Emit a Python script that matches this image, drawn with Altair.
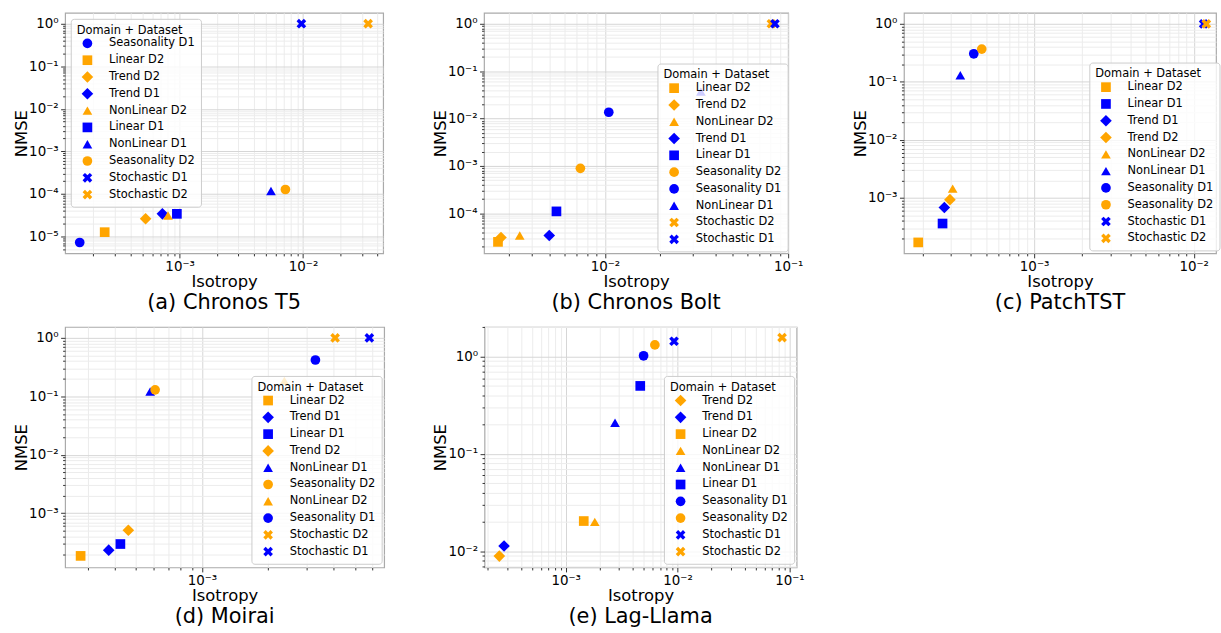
import altair as alt
import pandas as pd

BLUE = "#0000FF"
ORANGE = "#FFA500"

# ---------------- data ----------------
a_labels = ["Seasonality D1", "Linear D2", "Trend D2", "Trend D1", "NonLinear D2",
            "Linear D1", "NonLinear D1", "Seasonality D2", "Stochastic D1", "Stochastic D2"]
a_x = [1.55e-4, 2.47e-4, 5.3e-4, 7.25e-4, 8.05e-4, 9.5e-4, 5.5e-3, 7.2e-3, 9.7e-3, 0.0337]
a_y = [7.2e-6, 1.26e-5, 2.6e-5, 3.4e-5, 3.1e-5, 3.4e-5, 1.17e-4, 1.27e-4, 1.0, 1.0]

b_labels = ["Linear D2", "Trend D2", "NonLinear D2", "Trend D1", "Linear D1",
            "Seasonality D2", "Seasonality D1", "NonLinear D1", "Stochastic D2", "Stochastic D1"]
b_x = [2.61e-3, 2.71e-3, 3.43e-3, 4.97e-3, 5.44e-3, 7.35e-3, 1.05e-2, 0.0334, 0.081, 0.0847]
b_y = [2.5e-5, 3.1e-5, 3.4e-5, 3.4e-5, 1.1e-4, 8.9e-4, 1.36e-2, 0.037, 1.0, 1.0]

c_labels = ["Linear D2", "Linear D1", "Trend D1", "Trend D2", "NonLinear D2",
            "NonLinear D1", "Seasonality D1", "Seasonality D2", "Stochastic D1", "Stochastic D2"]
c_x = [1.88e-4, 2.67e-4, 2.74e-4, 2.97e-4, 3.09e-4, 3.45e-4, 4.19e-4, 4.7e-4, 0.01154, 0.0120]
c_y = [1.7e-4, 3.6e-4, 6.8e-4, 9.3e-4, 1.44e-3, 0.13, 0.305, 0.368, 1.0, 1.0]

d_labels = ["Linear D2", "Trend D1", "Linear D1", "Trend D2", "NonLinear D1",
            "Seasonality D2", "NonLinear D2", "Seasonality D1", "Stochastic D2", "Stochastic D1"]
d_x = [2.79e-4, 3.75e-4, 4.24e-4, 4.61e-4, 5.8e-4, 6.11e-4, 2.38e-3, 3.3e-3, 4.06e-3, 5.82e-3]
d_y = [1.86e-4, 2.33e-4, 2.97e-4, 5.1e-4, 0.121, 0.129, 0.184, 0.418, 1.0, 1.0]

e_labels = ["Trend D2", "Trend D1", "Linear D2", "NonLinear D2", "NonLinear D1",
            "Linear D1", "Seasonality D1", "Seasonality D2", "Stochastic D1", "Stochastic D2"]
e_x = [2.55e-4, 2.81e-4, 1.45e-3, 1.82e-3, 2.76e-3, 4.64e-3, 4.97e-3, 6.27e-3, 9.3e-3, 0.086]
e_y = [8.9e-3, 0.0113, 0.0204, 0.0200, 0.209, 0.50, 1.02, 1.32, 1.44, 1.57]

titles = ["(a) Chronos T5", "(b) Chronos Bolt", "(c) PatchTST", "(d) Moirai", "(e) Lag-Llama"]

# ---------------- styling helpers ----------------
X_PATH = ("M-1,-0.5L-0.5,-1L0,-0.5L0.5,-1L1,-0.5L0.5,0L1,0.5L0.5,1L0,0.5L-0.5,1L-1,0.5L-0.5,0Z")
DIAMOND = "M-1.2,0L0,-1.2L1.2,0L0,1.2Z"
SHAPES = {"Seasonality": "circle", "Linear": "square", "Trend": DIAMOND,
          "NonLinear": "triangle-up", "Stochastic": X_PATH}

LOG = "(log(datum.value)/LN10)"
EXP = f"round{LOG}"
MAJOR = f"abs({LOG} - {EXP}) < 0.01"
SUP = {0: "⁰", -1: "⁻¹", -2: "⁻²", -3: "⁻³", -4: "⁻⁴", -5: "⁻⁵", -6: "⁻⁶"}
sup_expr = "''"
for k in sorted(SUP):
    sup_expr = f"({EXP} == {k} ? '{SUP[k]}' : {sup_expr})"
LABEL_EXPR = f"{MAJOR} ? '10' + {sup_expr} : ''"


def log_ticks(lo, hi):
    vals = []
    for k in range(-7, 2):
        for m in range(1, 10):
            v = m * 10.0 ** k
            if lo <= v * (1 - 1e-9) and v * (1 + 1e-9) <= hi * (1 + 1e-6):
                vals.append(v)
    return vals


def axis(title, vals, extent=None, title_pad=0, label_pad=2.5):
    kw = dict(
        title=title, values=vals, labelExpr=LABEL_EXPR, labelOverlap=False,
        labelFlush=False, domain=False, grid=True,
        gridColor={"condition": {"test": MAJOR, "value": "#d6d6d6"}, "value": "#ececec"},
        tickSize={"condition": {"test": MAJOR, "value": 4.5}, "value": 2.5},
        tickColor="#333333", labelColor="black", titleColor="black",
        labelFontSize=13.5, titleFontSize=16.5, titleFontWeight="normal",
        labelPadding=label_pad, titlePadding=title_pad,
    )
    if extent is not None:
        kw["minExtent"] = extent
        kw["maxExtent"] = extent
    return alt.Axis(**kw)


def legend(lx, ly):
    return alt.Legend(
        title="Domain + Dataset", orient="none", legendX=lx, legendY=ly,
        fillColor="rgba(255,255,255,0.8)", strokeColor="#cccccc", cornerRadius=3,
        padding=6, titleFontSize=11.5, titleFontWeight="normal", titleColor="black",
        labelFontSize=11.5, labelColor="black", symbolSize=95, rowPadding=3.9,
        symbolOffset=5, labelOffset=16, titlePadding=1.5, symbolStrokeWidth=0,
    )


def panel(labels, xs, ys, xdom, ydom, width, title, lx, ly):
    df = pd.DataFrame({"label": labels, "x": xs, "y": ys})
    colors = [BLUE if l.endswith("D1") else ORANGE for l in labels]
    shapes = [SHAPES[l.split()[0]] for l in labels]
    lg = legend(lx, ly)
    return alt.Chart(df).mark_point(filled=True, opacity=1, size=95, strokeWidth=0).encode(
        x=alt.X("x:Q", scale=alt.Scale(type="log", domain=xdom, nice=False),
                axis=axis("Isotropy", log_ticks(*xdom), title_pad=1, label_pad=1.5)),
        y=alt.Y("y:Q", scale=alt.Scale(type="log", domain=ydom, nice=False),
                axis=axis("NMSE", log_ticks(*ydom), extent=35, title_pad=1)),
        color=alt.Color("label:N", scale=alt.Scale(domain=labels, range=colors), legend=lg),
        shape=alt.Shape("label:N", scale=alt.Scale(domain=labels, range=shapes), legend=lg),
    ).properties(
        width=width, height=242,
        title=alt.TitleParams(text=title, orient="bottom", fontSize=21, fontWeight="normal",
                              offset=2, anchor="middle", color="black"),
    )


pa = panel(a_labels, a_x, a_y, [1.18e-4, 0.0446], [4.0e-6, 1.8], 320, titles[0], 5.7, 6)
pb = panel(b_labels, b_x, b_y, [2.19e-3, 0.1], [1.43e-5, 1.7], 306, titles[1], 174.5, 51)
pc = panel(c_labels, c_x, c_y, [1.53e-4, 0.0138], [1.1e-4, 1.55], 314, titles[2], 186.5, 50)
pd_ = panel(d_labels, d_x, d_y, [2.37e-4, 6.8e-3], [1.18e-4, 1.54], 321, titles[3], 187.5, 49.3)
pe = panel(e_labels, e_x, e_y, [1.88e-4, 0.116], [6.8e-3, 2.02], 314, titles[4], 180.5, 49.3)

ind = dict(color="independent", shape="independent")
top = alt.hconcat(pa, pb, pc, spacing=47.5).resolve_scale(**ind).resolve_legend(**ind)
bottom = alt.hconcat(pd_, pe, spacing=47).resolve_scale(**ind).resolve_legend(**ind)
chart = alt.vconcat(top, bottom, spacing=5).resolve_scale(**ind).resolve_legend(**ind).properties(
    padding={"left": 12.5, "top": 10, "right": 0, "bottom": 0}
).configure(font="DejaVu Sans").configure_view(stroke="#aaaaaa", strokeWidth=1.2)

chart.save("out.html", embed_options={"renderer": "svg", "actions": False})
